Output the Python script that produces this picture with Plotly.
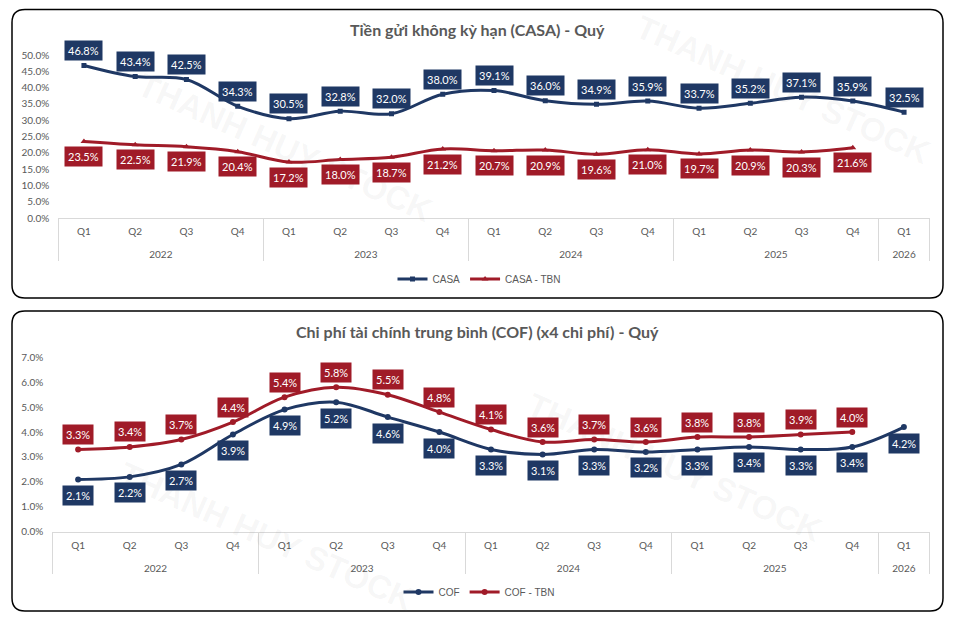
import plotly.graph_objects as go

# ---------------- data ----------------
quarters = ['Q1', 'Q2', 'Q3', 'Q4'] * 4 + ['Q1']
years = ['2022'] * 4 + ['2023'] * 4 + ['2024'] * 4 + ['2025'] * 4 + ['2026']

casa = [46.8, 43.4, 42.5, 34.3, 30.5, 32.8, 32.0, 38.0, 39.1, 36.0, 34.9, 35.9,
        33.7, 35.2, 37.1, 35.9, 32.5]
casa_tbn = [23.5, 22.5, 21.9, 20.4, 17.2, 18.0, 18.7, 21.2, 20.7, 20.9, 19.6, 21.0,
            19.7, 20.9, 20.3, 21.6, None]

cof = [2.1, 2.2, 2.7, 3.9, 4.9, 5.2, 4.6, 4.0, 3.3, 3.1, 3.3, 3.2,
       3.3, 3.4, 3.3, 3.4, 4.2]
cof_tbn = [3.3, 3.4, 3.7, 4.4, 5.4, 5.8, 5.5, 4.8, 4.1, 3.6, 3.7, 3.6,
           3.8, 3.8, 3.9, 4.0, None]

title_top = 'Tiền gửi không kỳ hạn (CASA) - Quý'
title_bot = 'Chi phí tài chính trung bình (COF) (x4 chi phí) - Quý'
watermark = 'THANH HUY STOCK'

# ---------------- style ----------------
W, H = 958, 626
NAVY = '#1F3864'
RED = '#A01B28'
GRAY = '#595959'
LINE = '#D9D9D9'
FONT = 'Lato'


def px(x):
    return x / W


def py(y):
    return 1 - y / H


def frac(vals):
    return [None if v is None else v / 100 for v in vals]


# an extra blank line under each quarter label pushes the year row down
qlabels = [q + '<br>\u00a0' for q in quarters]

fig = go.Figure()

fig.add_trace(go.Scatter(
    x=[years, qlabels], y=frac(casa), name='CASA', mode='lines+markers',
    line=dict(color=NAVY, width=3, shape='spline', smoothing=1),
    marker=dict(symbol='square', size=5, color=NAVY),
    xaxis='x', yaxis='y', legend='legend'))
fig.add_trace(go.Scatter(
    x=[years, qlabels], y=frac(casa_tbn), name='CASA - TBN', mode='lines+markers',
    line=dict(color=RED, width=3, shape='spline', smoothing=1),
    marker=dict(symbol='triangle-up', size=6, color=RED),
    xaxis='x', yaxis='y', legend='legend'))
fig.add_trace(go.Scatter(
    x=[years, qlabels], y=frac(cof), name='COF', mode='lines+markers',
    line=dict(color=NAVY, width=3, shape='spline', smoothing=1),
    marker=dict(symbol='circle', size=6, color=NAVY),
    xaxis='x2', yaxis='y2', legend='legend2'))
fig.add_trace(go.Scatter(
    x=[years, qlabels], y=frac(cof_tbn), name='COF - TBN', mode='lines+markers',
    line=dict(color=RED, width=3, shape='spline', smoothing=1),
    marker=dict(symbol='circle', size=6, color=RED),
    xaxis='x2', yaxis='y2', legend='legend2'))

annotations = []

# watermarks (drawn first so they sit under the labels)
for (cx, cy) in [(285, 148), (783, 90), (267, 536), (675, 467)]:
    annotations.append(dict(x=px(cx), y=py(cy), xref='paper', yref='paper', text=watermark,
                            showarrow=False, textangle=24, xanchor='center', yanchor='middle',
                            font=dict(family='Liberation Sans', size=33,
                                      color='rgba(128,128,128,0.07)', weight='bold')))


def add_labels(vals, xref, yref, color, shift):
    for i, v in enumerate(vals):
        if v is None:
            continue
        annotations.append(dict(
            x=i, y=v / 100, xref=xref, yref=yref, text=f'{v:.1f}%',
            showarrow=False, bgcolor=color, borderpad=3, yshift=shift,
            xanchor='center', yanchor='middle',
            font=dict(family=FONT, size=11, color='white')))


add_labels(casa, 'x', 'y', NAVY, 15)
add_labels(casa_tbn, 'x', 'y', RED, -15)
add_labels(cof_tbn, 'x2', 'y2', RED, 15)
add_labels(cof, 'x2', 'y2', NAVY, -16)

# titles
annotations.append(dict(x=px(477), y=py(30), xref='paper', yref='paper', text=title_top,
                        showarrow=False, xanchor='center', yanchor='middle',
                        font=dict(family=FONT, size=16, color=GRAY, weight='bold')))
annotations.append(dict(x=px(477), y=py(331), xref='paper', yref='paper', text=title_bot,
                        showarrow=False, xanchor='center', yanchor='middle',
                        font=dict(family=FONT, size=16, color=GRAY, weight='bold')))


def rounded_box(x0, y0, x1, y1, r=13):
    rx, ry = r / W, r / H
    X0, X1 = px(x0), px(x1)
    Y0, Y1 = py(y0), py(y1)  # Y0 top, Y1 bottom
    return (f'M {X0 + rx},{Y0} L {X1 - rx},{Y0} Q {X1},{Y0} {X1},{Y0 - ry} '
            f'L {X1},{Y1 + ry} Q {X1},{Y1} {X1 - rx},{Y1} '
            f'L {X0 + rx},{Y1} Q {X0},{Y1} {X0},{Y1 + ry} '
            f'L {X0},{Y0 - ry} Q {X0},{Y0} {X0 + rx},{Y0} Z')


shapes = [
    dict(type='path', xref='paper', yref='paper', path=rounded_box(12, 9.5, 943, 298),
         line=dict(color='black', width=1.5), layer='below'),
    dict(type='path', xref='paper', yref='paper', path=rounded_box(12, 311, 943, 611),
         line=dict(color='black', width=1.5), layer='below'),
]

xcommon = dict(type='multicategory', showline=True, linecolor=LINE, linewidth=1,
               showdividers=True, dividercolor=LINE, dividerwidth=1,
               tickfont=dict(family=FONT, size=10, color=GRAY), ticks='',
               ticklabelstandoff=4, automargin=False,
               showgrid=False, zeroline=False, range=[-0.5, 16.5], fixedrange=True)
ycommon = dict(showgrid=False, zeroline=False, showline=False, ticks='',
               tickformat='.1%', tickfont=dict(family=FONT, size=10, color=GRAY),
               ticklabelstandoff=8, automargin=False, fixedrange=True)

fig.update_layout(
    width=W, height=H, margin=dict(l=0, r=0, t=0, b=0, pad=0, autoexpand=False),
    paper_bgcolor='white', plot_bgcolor='white',
    xaxis=dict(domain=[px(58.3), px(929.7)], anchor='y', **xcommon),
    yaxis=dict(domain=[py(218.3), py(55)], anchor='x', range=[0, 0.5], dtick=0.05, **ycommon),
    xaxis2=dict(domain=[px(52.3), px(929.7)], anchor='y2', **xcommon),
    yaxis2=dict(domain=[py(531.7), py(357.3)], anchor='x2', range=[0, 0.07], dtick=0.01, **ycommon),
    legend=dict(orientation='h', x=0.5, xanchor='center', y=py(279), yanchor='middle',
                font=dict(family='Liberation Sans', size=10, color=GRAY), itemwidth=30,
                bgcolor='rgba(0,0,0,0)'),
    legend2=dict(orientation='h', x=0.5, xanchor='center', y=py(592), yanchor='middle',
                 font=dict(family='Liberation Sans', size=10, color=GRAY), itemwidth=30,
                 bgcolor='rgba(0,0,0,0)'),
    showlegend=True,
    annotations=annotations,
    shapes=shapes,
)

fig.write_html('out.html', config={'displayModeBar': False},
               post_script="document.body.style.margin='0';document.body.style.overflow='hidden';")
